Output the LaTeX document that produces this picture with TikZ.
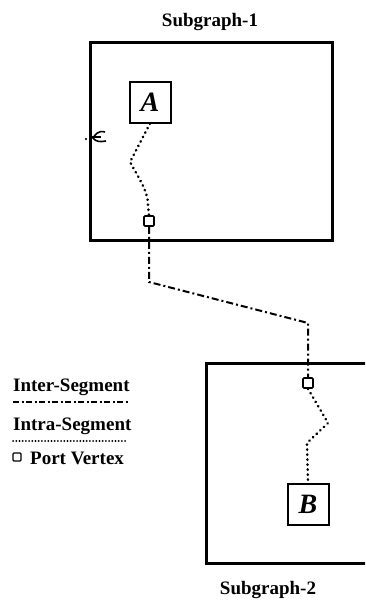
\documentclass[tikz,border=0pt]{standalone}
\usepackage{fontspec}
\setmainfont{Liberation Serif}
\begin{document}
\begin{tikzpicture}[x=1pt,y=-1pt,
  sgbox/.style={line width=3pt},
  vbox/.style={draw,line width=2pt,minimum width=41pt,minimum height=41pt,inner sep=0pt,font=\fontsize{28}{28}\selectfont\bfseries\itshape},
  port/.style={draw,line width=1.6pt,minimum size=10pt,inner sep=0pt,rounded corners=1pt},
  inter/.style={line width=2pt,dash pattern=on 7pt off 3pt on 2pt off 3pt},
  intra/.style={line width=2.6pt,line cap=round,dash pattern=on 0.4pt off 4.6pt},
  lbl/.style={font=\fontsize{19}{19}\selectfont\bfseries},
  leg/.style={font=\fontsize{19}{19}\selectfont\bfseries,anchor=west,inner sep=0pt}]
\useasboundingbox (0,0) rectangle (365,605);
\begin{scope}
\clip (0,0) rectangle (365,605);
% subgraph boxes
\draw[sgbox] (90,42) rectangle (332,240);
\draw[sgbox] (206,363) rectangle (380,563);
\end{scope}
\node[lbl] (t1) at (210,22) {Subgraph-1};
\node[lbl] (t2) at (268,590) {Subgraph-2};
% vertices
\node[vbox] (A) at (150,102) {A};
\node[vbox] (B) at (308,504) {B};
% ports
\node[port] (p1) at (149,221) {};
\node[port] (p2) at (308,383) {};
% intra segments
\coordinate (a1) at (130,162);
\coordinate (a2) at (148,205);
\draw[intra] (A.south) -- (a1) .. controls (140,180) and (148,192) .. (a2) -- (p1.north);
\coordinate (b1) at (328,423);
\coordinate (b2) at (307,443);
\draw[intra] (p2.south) -- (b1) -- (b2) -- (B.north);
% inter segment
\coordinate (c1) at (149,282);
\coordinate (c2) at (308,323);
\draw[inter] (p1.south) -- (c1) -- (c2) -- (p2.north);
% small mark
\draw[fill] (86,139) circle (0.8pt);
\draw[line width=1.6pt] (105,132) .. controls (98,130) and (95,135) .. (93,138) .. controls (96,142) and (100,142) .. (106,141);
\draw[line width=1.2pt] (92,137) -- (101,137);
% legend
\node[leg] (l1) at (13,387) {Inter-Segment};
\coordinate (l1a) at (13,402);
\coordinate (l1b) at (128,402);
\draw[inter,line width=1.8pt,dash pattern=on 6pt off 2.5pt on 2pt off 2.5pt] (l1a) -- (l1b);
\node[leg] (l2) at (13,426) {Intra-Segment};
\coordinate (l2a) at (13,441);
\coordinate (l2b) at (128,441);
\draw[line width=1.8pt,line cap=round,dash pattern=on 0.2pt off 3pt] (l2a) -- (l2b);
\node[port,line width=1.3pt,minimum size=8pt] (lp) at (17,457) {};
\node[leg] (l3) at (30,458) {Port Vertex};
\end{tikzpicture}
\end{document}
